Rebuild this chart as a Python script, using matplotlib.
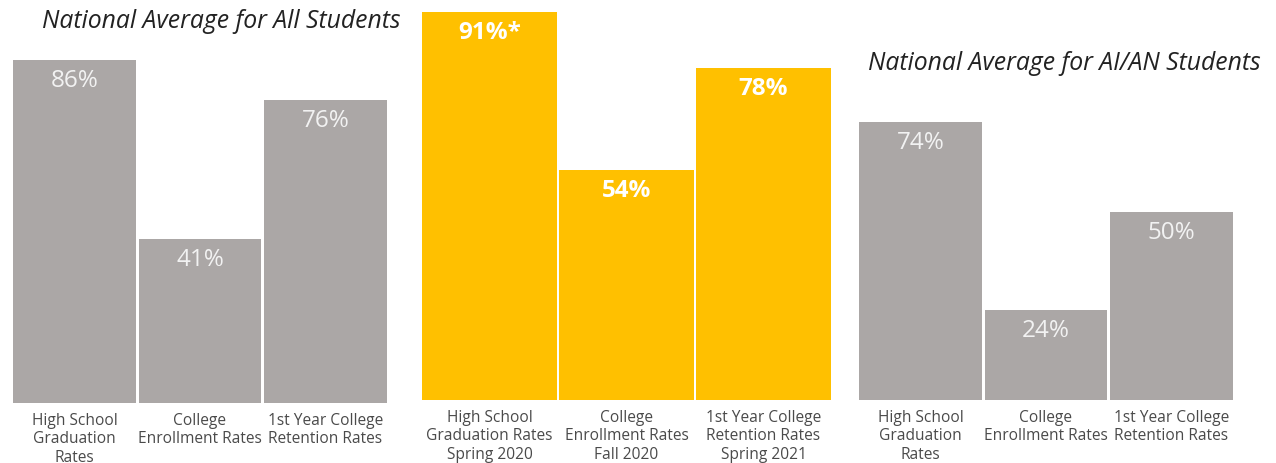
import matplotlib.pyplot as plt

W, H = 1276, 463

categories_all = ["High School\nGraduation\nRates", "College\nEnrollment Rates", "1st Year College\nRetention Rates"]
values_all = [86, 41, 76]

categories_program = ["High School\nGraduation Rates\nSpring 2020", "College\nEnrollment Rates\nFall 2020",
                      "1st Year College\nRetention Rates\nSpring 2021"]
values_program = [91, 54, 78]
labels_program = ["91%*", "54%", "78%"]

categories_aian = ["High School\nGraduation\nRates", "College\nEnrollment Rates", "1st Year College\nRetention Rates"]
values_aian = [74, 24, 50]

GRAY = '#aba7a6'
GOLD = '#ffc000'


def add_panel(fig, left, right, bottom, px_per_unit, values, labels, cats, color, weight, txtcolor):
    top = 4
    ax = fig.add_axes([left / W, (H - bottom) / H, (right - left) / W, (bottom - top) / H])
    x = range(len(values))
    ax.bar(x, values, width=0.98, color=color)
    ax.set_xlim(-0.5, len(values) - 0.5)
    ax.set_ylim(0, (bottom - top) / px_per_unit)
    for xi, v, lab in zip(x, values, labels):
        ax.annotate(lab, (xi, v), xytext=(0, -21), textcoords='offset pixels',
                    ha='center', va='center', color=txtcolor, fontsize=17.5,
                    fontweight=weight, family='Open Sans')
    ax.set_xticks(list(x))
    ax.set_xticklabels(cats, fontsize=11.2, color='#4a4a4a', family='Open Sans', linespacing=1.2)
    ax.tick_params(axis='x', length=0, pad=7)
    ax.set_yticks([])
    for s in ax.spines.values():
        s.set_visible(False)
    return ax


fig = plt.figure(figsize=(W / 100, H / 100), dpi=100)

add_panel(fig, 12, 388, 403, 3.99, values_all, [f"{v}%" for v in values_all],
          categories_all, GRAY, 'normal', '#f2f2f2')
add_panel(fig, 421, 832, 400, 4.26, values_program, labels_program,
          categories_program, GOLD, 'bold', 'white')
add_panel(fig, 858, 1234, 400, 3.76, values_aian, [f"{v}%" for v in values_aian],
          categories_aian, GRAY, 'normal', '#f2f2f2')

fig.text(42 / W, 1 - 22 / H, "National Average for All Students", fontsize=17.8,
         style='italic', family='Open Sans', color='#222222', va='center')
fig.text(868 / W, 1 - 63 / H, "National Average for AI/AN Students", fontsize=17.8,
         style='italic', family='Open Sans', color='#222222', va='center')

fig.savefig('out.png', dpi=100)
